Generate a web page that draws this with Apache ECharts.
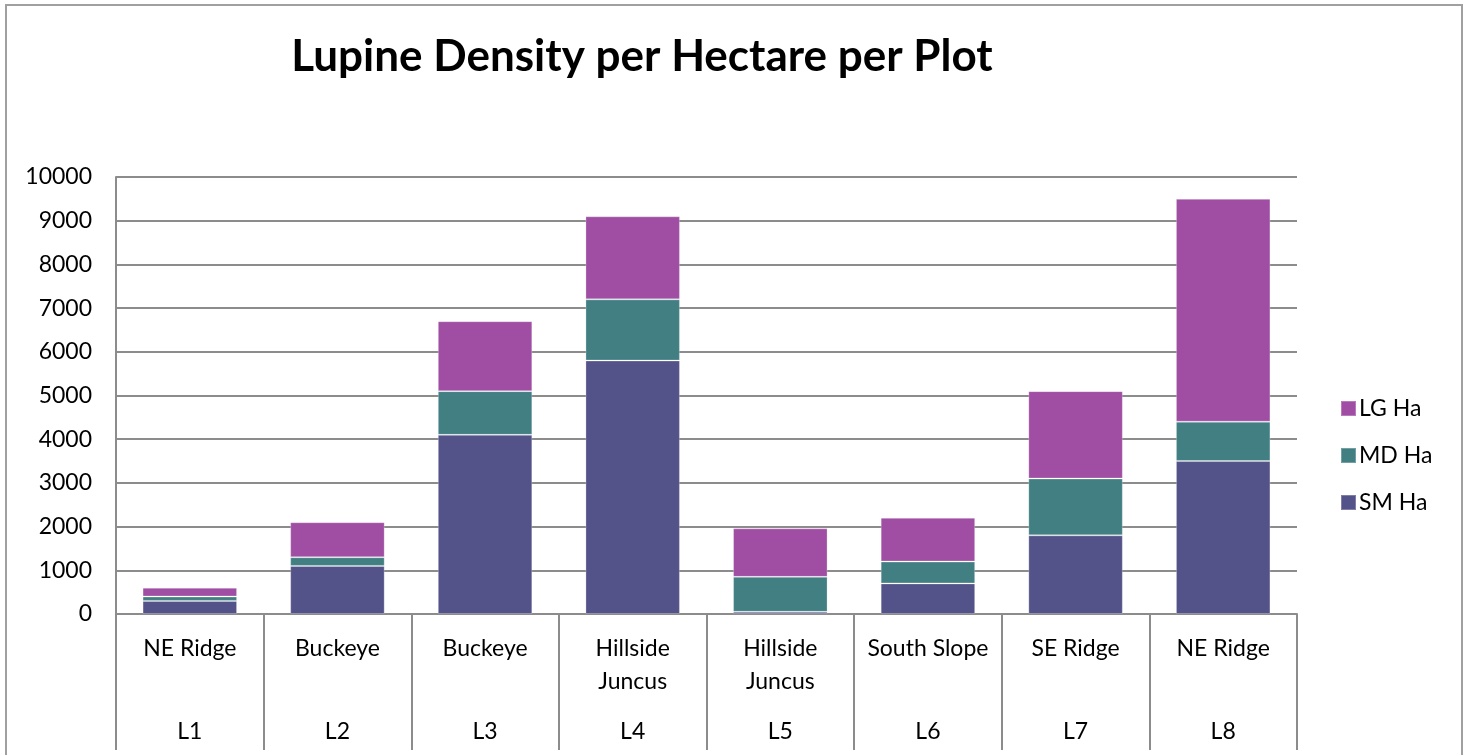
<!DOCTYPE html>
<html>
<head>
<meta charset="utf-8">
<script src="https://cdn.jsdelivr.net/npm/echarts@6/dist/echarts.min.js"></script>
<style>
html,body{margin:0;padding:0;background:#fff;}
#chart{width:1470px;height:755px;}
</style>
</head>
<body>
<div id="chart"></div>
<script>
const sites = ['NE Ridge', 'Buckeye', 'Buckeye', 'Hillside\nJuncus', 'Hillside\nJuncus', 'South Slope', 'SE Ridge', 'NE Ridge'];
const plots = ['L1', 'L2', 'L3', 'L4', 'L5', 'L6', 'L7', 'L8'];
const smHa = [300, 1100, 4100, 5800, 50, 700, 1800, 3500];
const mdHa = [100, 200, 1000, 1400, 800, 500, 1300, 900];
const lgHa = [200, 800, 1600, 1900, 1110, 1000, 2000, 5100];
const yTicks = [0, 1000, 2000, 3000, 4000, 5000, 6000, 7000, 8000, 9000, 10000];

const FONT = 'Lato, "Open Sans", sans-serif';
const GRAY = '#8c8c8c';
const chart = echarts.init(document.getElementById('chart'));

function barSeries(name, data, color) {
  return {
    name: name, type: 'bar', stack: 'total', data: data,
    barWidth: '64%',
    itemStyle: { color: color, borderColor: 'rgba(255,255,255,0.25)', borderWidth: 1 }
  };
}

chart.setOption({
  animation: false,
  backgroundColor: '#fff',
  graphic: [{
    type: 'rect', shape: { x: 6, y: 5, width: 1456, height: 770 },
    style: { fill: 'none', stroke: '#a0a0a0', lineWidth: 2 }, silent: true
  }],
  title: {
    text: 'Lupine Density per Hectare per Plot',
    left: 637, top: 30, textAlign: 'center',
    textStyle: { fontFamily: FONT, fontWeight: 'bold', fontSize: 44, color: '#000' }
  },
  legend: {
    orient: 'vertical', left: 1335, top: 392, itemGap: 24,
    itemWidth: 15, itemHeight: 15, icon: 'rect',
    data: ['LG Ha', 'MD Ha', 'SM Ha'],
    textStyle: { fontFamily: FONT, fontSize: 23, color: '#000', padding: [0, 0, 0, -2] }
  },
  grid: { left: 116, right: 173, top: 177, bottom: 141, containLabel: false },
  xAxis: [{
    type: 'category', data: sites, position: 'bottom',
    axisLine: { show: true, lineStyle: { color: GRAY, width: 2 } },
    axisTick: { show: true, interval: 0, length: 136, lineStyle: { color: GRAY, width: 2 } },
    axisLabel: { interval: 0, margin: 18, fontFamily: FONT, fontSize: 23, color: '#000', lineHeight: 33 }
  }, {
    type: 'category', data: plots, position: 'bottom',
    axisLine: { show: false }, axisTick: { show: false },
    axisLabel: { interval: 0, margin: 101, fontFamily: FONT, fontSize: 23, color: '#000', lineHeight: 33 }
  }],
  yAxis: {
    type: 'value', min: yTicks[0], max: yTicks[yTicks.length - 1], interval: 1000,
    axisLine: { show: true, lineStyle: { color: GRAY, width: 2 } },
    axisTick: { show: false },
    splitLine: { lineStyle: { color: GRAY, width: 2 } },
    axisLabel: { margin: 24, fontFamily: FONT, fontSize: 23, color: '#000', formatter: function (v) { return String(v); } }
  },
  series: [
    barSeries('SM Ha', smHa, '#535389'),
    barSeries('MD Ha', mdHa, '#427f83'),
    barSeries('LG Ha', lgHa, '#a04ea3')
  ]
});
</script>
</body>
</html>
